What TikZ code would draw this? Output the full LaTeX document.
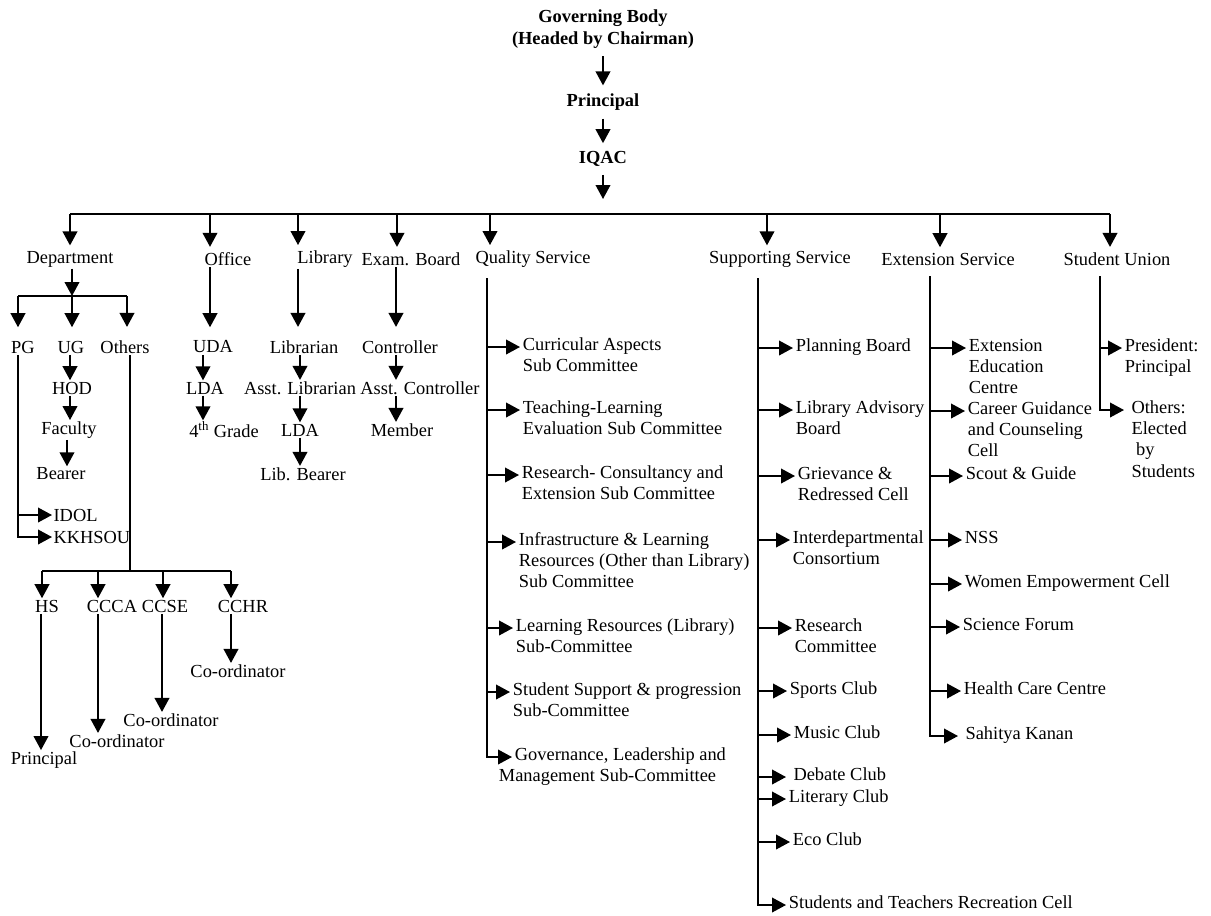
\documentclass[tikz,border=0pt]{standalone}
\usepackage{fontspec}
\setmainfont{Liberation Serif}
\usetikzlibrary{arrows.meta,positioning}

\newcommand{\chartfont}{\fontsize{13.8}{16}\selectfont}
% multi-line label whose baseline is its first line
\newcommand{\ml}[1]{\begin{tabular}[t]{@{}l@{}}#1\end{tabular}}

\tikzset{
  ln/.style={line width=1.3pt},
  arr/.style={ln, -{Triangle[length=10.5pt,width=11pt]}},
  lbl/.style={font=\chartfont, inner sep=1pt},
  ttl/.style={font=\chartfont\bfseries, align=center, inner sep=1pt},
  br/.style={lbl, anchor=mid west, inner xsep=2pt},
}

\begin{document}
\begin{tikzpicture}[x=0.75pt, y=-0.75pt]
\useasboundingbox (0,0) rectangle (1211,915);

% top of the chart
\node[ttl] (gov) at (603,29) {Governing Body\\(Headed by Chairman)};
\node[ttl] (prin) at (603,102) {Principal};
\node[ttl] (iqac) at (603,159) {IQAC};
\coordinate (iqtip) at (603,199);
\draw[arr, shorten <=5pt, shorten >=5pt] (gov) -- (prin);
\draw[arr, shorten <=5pt, shorten >=5pt] (prin) -- (iqac);
\draw[arr, shorten <=5pt] (iqac) -- (iqtip);

% main bus
\draw[ln] (70,214) -- (1110,214);
\node[lbl] (dep) at (70,259) {Department};
\node[lbl] (off) at (228,259) {Office};
\node[lbl] (lib) at (325,259) {Library};
\node[lbl] (exb) at (411,259) {Exam. Board};
\node[lbl] (qs) at (533,259) {Quality Service};
\node[lbl] (ss) at (780,259) {Supporting Service};
\node[lbl] (es) at (948,259) {Extension Service};
\node[lbl] (su) at (1117,259) {Student Union};
\foreach \n/\x in {dep/70,off/210,lib/298,exb/397,qs/490,ss/767,es/940,su/1110} {
  \coordinate (t) at (\x,214);
  \draw[arr, shorten >=3pt] (t) -- (t |- \n.north);
}

% department
\coordinate (dsplit) at (72,296);
\draw[arr] (dep.south -| dsplit) -- (dsplit);
\draw[ln] (18,296) -- (127,296);
\node[lbl] (pg) at (23,347) {PG};
\node[lbl] (ug) at (71,347) {UG};
\node[lbl] (oth) at (125,347) {Others};
\foreach \n/\x in {pg/18,ug/72,oth/127} {
  \coordinate (t) at (\x,296);
  \draw[arr, shorten >=9pt] (t) -- (t |- \n.north);
}
\node[lbl] (hod) at (72,388) {HOD};
\node[lbl] (fac) at (69,430) {Faculty};
\node[lbl] (bea) at (61,474) {Bearer};

\coordinate (pgx) at (18,0);
\node[lbl, anchor=west] (idol) at (52,515) {IDOL};
\node[lbl, anchor=west] (kk) at (52,537) {KKHSOU};
\draw[arr] (pgx |- pg.south) |- (kk.west);
\draw[arr] (pgx |- idol.west) -- (idol.west);

\coordinate (othx) at (130,0);
\draw[ln] (othx |- oth.south) -- (130,571);
\draw[ln] (42,571) -- (231,571);
\node[lbl] (hs) at (47,606) {HS};
\node[lbl] (ccca) at (112,606) {CCCA};
\node[lbl] (ccse) at (165,606) {CCSE};
\node[lbl] (cchr) at (243,606) {CCHR};
\foreach \n/\x in {hs/42,ccca/98,ccse/163,cchr/231} {
  \coordinate (t) at (\x,571);
  \draw[arr] (t) -- (t |- \n.north);
}
\node[lbl] (prl) at (44,760) {Principal};
\node[lbl] (co1) at (117,741) {Co-ordinator};
\node[lbl] (co2) at (171,720) {Co-ordinator};
\node[lbl] (co3) at (238,671) {Co-ordinator};

% office, library, exam board
\node[lbl] (uda) at (213,347) {UDA};
\node[lbl] (lda) at (205,388) {LDA};
\node[lbl] (g4) at (224,430) {4\textsuperscript{th} Grade};
\node[lbl] (lbn) at (304,347) {Librarian};
\node[lbl] (alb) at (300,388) {Asst. Librarian};
\node[lbl] (lda2) at (300,430) {LDA};
\node[lbl] (lbb) at (303,474) {Lib. Bearer};
\node[lbl] (ctl) at (400,347) {Controller};
\node[lbl] (act) at (420,388) {Asst. Controller};
\node[lbl] (mem) at (402,430) {Member};

% vertical links
\foreach \a/\b/\x in {ug/hod/70,hod/fac/70,fac/bea/67,uda/lda/203,lda/g4/203,
    lbn/alb/300,alb/lda2/300,lda2/lbb/300,ctl/act/396,act/mem/396,
    hs/prl/41,ccca/co1/98,ccse/co2/162,cchr/co3/231} {
  \coordinate (t) at (\x,0);
  \draw[arr] (t |- \a.south) -- (t |- \b.north);
}
\foreach \a/\b/\x in {off/uda/210,lib/lbn/298,exb/ctl/396} {
  \coordinate (t) at (\x,0);
  \draw[arr, shorten >=9pt] (t |- \a.south) -- (t |- \b.north);
}

% quality service
\coordinate (qx) at (487,0);
\node[br] (q1) at (520,347) {\ml{Curricular Aspects\\Sub Committee}};
\node[br] (q2) at (520,410) {\ml{Teaching-Learning\\Evaluation Sub Committee}};
\node[br] (q3) at (519,475) {\ml{Research- Consultancy and\\Extension Sub Committee}};
\node[br] (q4) at (516,542) {\ml{Infrastructure \& Learning\\Resources (Other than Library)\\Sub Committee}};
\node[br] (q5) at (513,628) {\ml{Learning Resources (Library)\\Sub-Committee}};
\node[br] (q6) at (510,692) {\ml{Student Support \& progression\\Sub-Committee}};
\node[br] (q7) at (512,757) {\ml{Governance, Leadership and\\\hspace*{-12pt}Management Sub-Committee}};
\draw[arr, shorten <=7pt] (qx |- qs.south) |- (q7.mid west);
\foreach \n in {q1,q2,q3,q4,q5,q6}
  \draw[arr] (qx |- \n.mid west) -- (\n.mid west);

% supporting service
\coordinate (sx) at (758,0);
\node[br] (s1) at (793,348) {Planning Board};
\node[br] (s2) at (793,410) {\ml{Library Advisory\\Board}};
\node[br] (s3) at (795,476) {\ml{Grievance \&\\Redressed Cell}};
\node[br] (s4) at (790,540) {\ml{Interdepartmental\\Consortium}};
\node[br] (s5) at (792,628) {\ml{Research\\Committee}};
\node[br] (s6) at (787,691) {Sports Club};
\node[br] (s7) at (791,735) {Music Club};
\node[br] (s8) at (786,777) {\ Debate Club};
\node[br] (s9) at (786,799) {Literary Club};
\node[br] (s10) at (790,842) {Eco Club};
\node[br] (s11) at (786,905) {Students and Teachers Recreation Cell};
\draw[arr, shorten <=7pt] (sx |- ss.south) |- (s11.mid west);
\foreach \n in {s1,s2,s3,s4,s5,s6,s7,s8,s9,s10}
  \draw[arr] (sx |- \n.mid west) -- (\n.mid west);

% extension service
\coordinate (ex) at (930,0);
\node[br] (e1) at (966,348) {\ml{Extension\\Education\\Centre}};
\node[br] (e2) at (965,411) {\ml{Career Guidance\\and Counseling\\Cell}};
\node[br] (e3) at (963,476) {Scout \& Guide};
\node[br] (e4) at (962,540) {NSS};
\node[br] (e5) at (962,584) {Women Empowerment Cell};
\node[br] (e6) at (960,627) {Science Forum};
\node[br] (e7) at (961,691) {Health Care Centre};
\node[br] (e8) at (958,736) {\ Sahitya Kanan};
\draw[arr, shorten <=7pt] (ex |- es.south) |- (e8.mid west);
\foreach \n in {e1,e2,e3,e4,e5,e6,e7}
  \draw[arr] (ex |- \n.mid west) -- (\n.mid west);

% student union
\coordinate (ux) at (1100,0);
\node[br] (u1) at (1122,348) {\ml{President:\\Principal}};
\node[br] (u2) at (1124,410) {\ml{\ Others:\\\ Elected\\\ \ by\\\ Students}};
\draw[arr, shorten <=7pt] (ux |- su.south) |- (u2.mid west);
\draw[arr] (ux |- u1.mid west) -- (u1.mid west);
\end{tikzpicture}
\end{document}
